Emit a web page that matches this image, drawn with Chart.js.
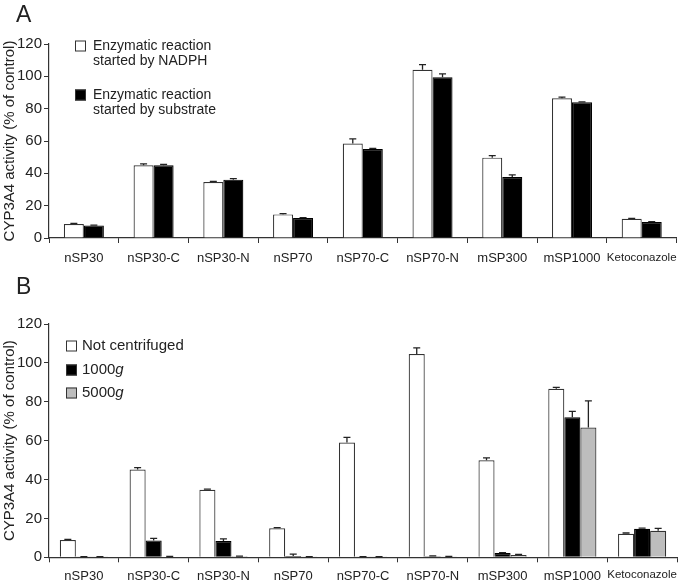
<!DOCTYPE html>
<html>
<head>
<meta charset="utf-8">
<script src="https://cdn.jsdelivr.net/npm/chart.js@4.4.1/dist/chart.umd.min.js"></script>
<style>
  body { margin: 0; background: #fff; width: 685px; height: 584px; position: relative; overflow: hidden;
         font-family: Arial, "Liberation Sans", sans-serif; }
  .panel { position: absolute; left: 0; width: 685px; }
  #wrapA { top: 0; height: 280px; }
  #wrapB { top: 280px; height: 304px; }
  .tag { position: absolute; left: 16px; font-size: 23px; color: #222; line-height: 1; }
</style>
</head>
<body>
<div class="panel" id="wrapA"><canvas id="chartA" width="685" height="280"></canvas></div>
<div class="panel" id="wrapB"><canvas id="chartB" width="685" height="304"></canvas></div>
<div class="tag" style="top:3px">A</div>
<div class="tag" style="top:275px">B</div>
<script>
// categories (same for both panels)
const categories = ['nSP30', 'nSP30-C', 'nSP30-N', 'nSP70', 'nSP70-C', 'nSP70-N', 'mSP300', 'mSP1000', 'Ketoconazole'];
const yTicks = [0, 20, 40, 60, 80, 100, 120];

// panel A: reaction started by NADPH vs by substrate
const startedNadph     = [8.7, 45.0, 34.6, 14.6, 58.5, 104.0, 49.7, 86.4, 11.9];
const startedNadphErr  = [0.4, 0.8, 0.4, 0.5, 2.8, 3.3, 1.2, 0.8, 0.3];
const startedSubstrate    = [7.8, 45.0, 36.1, 12.4, 55.0, 99.5, 37.7, 83.9, 9.9];
const startedSubstrateErr = [0.2, 0.5, 0.6, 0.2, 0.4, 2.0, 1.3, 0.3, 0.2];

// panel B: centrifugation
const notCentrifuged    = [8.9, 45.1, 34.7, 14.9, 59.0, 104.6, 49.9, 86.7, 12.1];
const notCentrifugedErr = [0.3, 1.0, 0.4, 0.4, 2.7, 3.1, 1.2, 0.7, 0.4];
const spin1000g    = [0.2, 8.7, 8.4, 0.7, 0.2, 0.5, 2.2, 72.1, 14.7];
const spin1000gErr = [0.1, 1.0, 1.1, 0.9, 0.1, 0.2, 0.2, 3.0, 0.3];
const spin5000g    = [0.2, 0.3, 0.5, 0.2, 0.2, 0.4, 1.2, 66.8, 13.6];
const spin5000gErr = [0.1, 0.1, 0.1, 0.1, 0.1, 0.1, 0.3, 13.7, 1.3];

const FONT = 'Arial, "Liberation Sans", sans-serif';
const INK = '#222';

// upward error bars with a small cap
const errorBars = {
  id: 'errorBars',
  afterDatasetsDraw(chart) {
    const ctx = chart.ctx;
    const yScale = chart.scales.y;
    chart.data.datasets.forEach((ds, i) => {
      if (!ds.errors) return;
      chart.getDatasetMeta(i).data.forEach((bar, j) => {
        const top = yScale.getPixelForValue(ds.data[j] + ds.errors[j]);
        ctx.save();
        ctx.strokeStyle = INK;
        ctx.lineWidth = 1.3;
        ctx.beginPath();
        ctx.moveTo(bar.x, bar.y);
        ctx.lineTo(bar.x, top);
        ctx.moveTo(bar.x - 3.5, top);
        ctx.lineTo(bar.x + 3.5, top);
        ctx.stroke();
        ctx.restore();
      });
    });
  }
};

// legend boxes drawn inside the plot, one entry per dataset
const boxLegend = {
  id: 'boxLegend',
  afterDraw(chart, args, opts) {
    const ctx = chart.ctx;
    ctx.save();
    chart.data.datasets.forEach((ds, i) => {
      const cy = opts.rows[i];
      const s = opts.box;
      ctx.fillStyle = ds.backgroundColor;
      ctx.strokeStyle = '#333';
      ctx.lineWidth = 1;
      ctx.fillRect(opts.x, cy - s / 2, s, s);
      ctx.strokeRect(opts.x + 0.5, cy - s / 2 + 0.5, s - 1, s - 1);
      ctx.fillStyle = INK;
      ctx.textBaseline = 'middle';
      const lines = Array.isArray(ds.label) ? ds.label : [ds.label];
      lines.forEach((line, k) => {
        const y = cy + k * opts.lineGap;
        const m = /^(\d+)(g)$/.exec(line);
        ctx.font = opts.size + 'px ' + FONT;
        if (m) {
          ctx.fillText(m[1], opts.textX, y);
          const w = ctx.measureText(m[1]).width;
          ctx.font = 'italic ' + opts.size + 'px ' + FONT;
          ctx.fillText(m[2], opts.textX + w, y);
        } else {
          ctx.fillText(line, opts.textX, y);
        }
      });
    });
    ctx.restore();
  }
};

function makeOptions(xHeight, xPad, legendOpts) {
  return {
    responsive: false,
    animation: false,
    layout: { padding: { top: 44, right: 8, left: 0, bottom: 0 } },
    plugins: { legend: { display: false }, tooltip: { enabled: false }, boxLegend: legendOpts },
    scales: {
      x: {
        grid: { offset: true, drawOnChartArea: false, tickLength: 5, color: '#333' },
        border: { color: '#333', width: 1.2 },
        ticks: {
          color: INK, padding: xPad, maxRotation: 0, autoSkip: false,
          font: (c) => ({ family: FONT, size: c.index === 8 ? 11.5 : 13 })
        },
        afterFit: (s) => { s.height = xHeight; }
      },
      y: {
        min: 0, max: 120,
        afterBuildTicks: (s) => { s.ticks = yTicks.map(v => ({ value: v })); },
        ticks: { color: INK, padding: 2, font: { family: FONT, size: 15 } },
        grid: { drawOnChartArea: false, tickLength: 5, color: '#333' },
        border: { color: '#333', width: 1.2 },
        title: {
          display: true, text: 'CYP3A4 activity (% of control)', color: INK,
          font: { family: FONT, size: 15 }, padding: { top: 1, bottom: 0 }
        },
        afterFit: (s) => { s.width = 49; }
      }
    }
  };
}

function barSet(label, data, errors, fill, pct) {
  return {
    label: label, data: data, errors: errors,
    backgroundColor: fill, borderColor: fill === '#000000' ? '#000000' : '#333',
    borderWidth: 1.2, barPercentage: 1.0, categoryPercentage: pct
  };
}

new Chart(document.getElementById('chartA'), {
  type: 'bar',
  data: {
    labels: categories,
    datasets: [
      barSet(['Enzymatic reaction', 'started by NADPH'], startedNadph, startedNadphErr, '#ffffff', 0.574),
      barSet(['Enzymatic reaction', 'started by substrate'], startedSubstrate, startedSubstrateErr, '#000000', 0.574)
    ]
  },
  options: makeOptions(42, 8, { x: 75, textX: 93, box: 11, size: 14, lineGap: 15, rows: [46, 95] }),
  plugins: [errorBars, boxLegend]
});

new Chart(document.getElementById('chartB'), {
  type: 'bar',
  data: {
    labels: categories,
    datasets: [
      barSet('Not centrifuged', notCentrifuged, notCentrifugedErr, '#ffffff', 0.69),
      barSet('1000g', spin1000g, spin1000gErr, '#000000', 0.69),
      barSet('5000g', spin5000g, spin5000gErr, '#bdbdbd', 0.69)
    ]
  },
  options: makeOptions(26.7, 6, { x: 66, textX: 82, box: 11, size: 15, lineGap: 0, rows: [66, 90, 113] }),
  plugins: [errorBars, boxLegend]
});
</script>
</body>
</html>
